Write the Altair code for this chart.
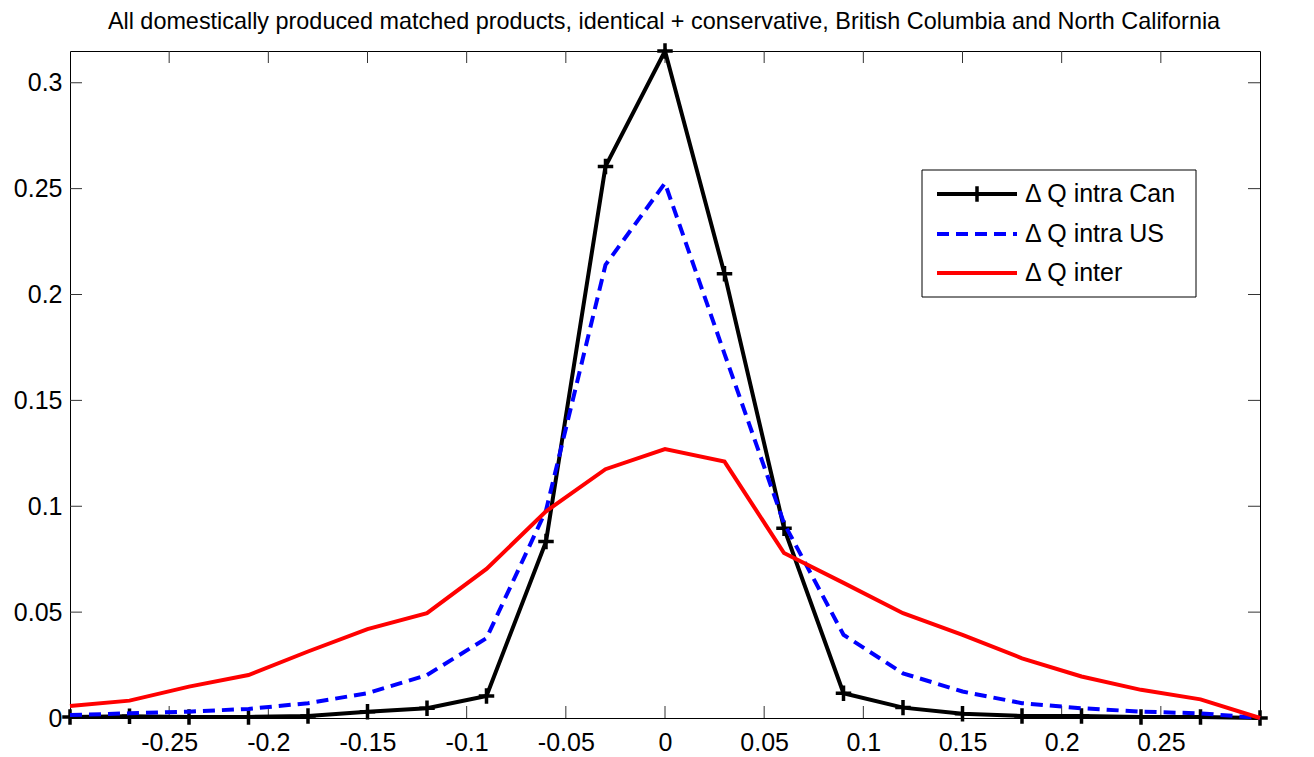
import altair as alt
import pandas as pd

# ---- data ----
x_vals = [-0.30, -0.27, -0.24, -0.21, -0.18, -0.15, -0.12, -0.09, -0.06, -0.03,
          0.00, 0.03, 0.06, 0.09, 0.12, 0.15, 0.18, 0.21, 0.24, 0.27, 0.30]
intra_can = [0.0005, 0.0008, 0.0005, 0.0005, 0.001, 0.003, 0.0046, 0.0104, 0.0833, 0.2605,
             0.315, 0.2098, 0.0896, 0.0117, 0.0049, 0.002, 0.001, 0.001, 0.0005, 0.0005, 0.0]
intra_us = [0.0014, 0.0022, 0.003, 0.0043, 0.007, 0.0117, 0.0203, 0.0377, 0.098, 0.214,
            0.2526, 0.172, 0.092, 0.0393, 0.0211, 0.0125, 0.007, 0.0046, 0.003, 0.0022, 0.0]
inter = [0.0057, 0.0082, 0.0148, 0.0203, 0.0314, 0.042, 0.0495, 0.0704, 0.0976, 0.1175,
         0.127, 0.1211, 0.0779, 0.0638, 0.0495, 0.0393, 0.0282, 0.0196, 0.0133, 0.0088, 0.0]

x_ticks = [-0.25, -0.2, -0.15, -0.1, -0.05, 0, 0.05, 0.1, 0.15, 0.2, 0.25]
y_ticks = [0, 0.05, 0.1, 0.15, 0.2, 0.25, 0.3]
legend_labels = ["\u0394 Q intra Can", "\u0394 Q intra US", "\u0394 Q inter"]
title_text = ("All domestically produced matched products, identical + conservative, "
              "British Columbia and North California")

FONT = "Liberation Sans"
W, H = 1190, 667
LFS = 25  # label font size

xs = alt.Scale(domain=[-0.3, 0.3], nice=False, zero=False)
ys = alt.Scale(domain=[0, 0.315], nice=False, zero=False)

df_can = pd.DataFrame({"x": x_vals, "y": intra_can})
df_us = pd.DataFrame({"x": x_vals, "y": intra_us})
df_int = pd.DataFrame({"x": x_vals, "y": inter})
df_xt = pd.DataFrame({"x": x_ticks})
df_yt = pd.DataFrame({"y": y_ticks})
one = pd.DataFrame({"a": [0]})

X = alt.X("x:Q", scale=xs, axis=alt.Axis(values=x_ticks, labelExpr="toString(datum.value)",
                                            title=None, labelPadding=12))
Y = alt.Y("y:Q", scale=ys, axis=alt.Axis(values=y_ticks, labelExpr="toString(datum.value)",
                                            title=None, labelPadding=8))

# inward ticks on all four sides
tk = 12
xt_bottom = alt.Chart(df_xt).mark_rule(color="#333", strokeWidth=1).encode(
    x=alt.X("x:Q", scale=xs), y=alt.value(H), y2=alt.value(H - tk))
xt_top = alt.Chart(df_xt).mark_rule(color="#333", strokeWidth=1).encode(
    x=alt.X("x:Q", scale=xs), y=alt.value(0), y2=alt.value(tk))
yt_left = alt.Chart(df_yt).mark_rule(color="#333", strokeWidth=1).encode(
    y=alt.Y("y:Q", scale=ys), x=alt.value(0), x2=alt.value(tk))
yt_right = alt.Chart(df_yt).mark_rule(color="#333", strokeWidth=1).encode(
    y=alt.Y("y:Q", scale=ys), x=alt.value(W), x2=alt.value(W - tk))

plus = "M-1,0L1,0M0,-1L0,1"

line_can = alt.Chart(df_can).mark_line(color="black", strokeWidth=4).encode(x=X, y=Y)
pts_can = alt.Chart(df_can).mark_point(shape=plus, filled=False, color="black",
                                       strokeWidth=3.5, size=240, opacity=1).encode(
    x=alt.X("x:Q", scale=xs), y=alt.Y("y:Q", scale=ys))
line_us = alt.Chart(df_us).mark_line(color="#0000ff", strokeWidth=4, strokeDash=[12, 7]).encode(
    x=alt.X("x:Q", scale=xs), y=alt.Y("y:Q", scale=ys))
line_int = alt.Chart(df_int).mark_line(color="#ff0000", strokeWidth=4).encode(
    x=alt.X("x:Q", scale=xs), y=alt.Y("y:Q", scale=ys))

# legend box
lx0, lx1, ly0, ly1 = 852, 1126, 119, 246
rows = [143, 183, 222]
sx0, sx1, tx = 867, 947, 955
leg_box = alt.Chart(one).mark_rect(fill="white", stroke="black", strokeWidth=1).encode(
    x=alt.value(lx0), x2=alt.value(lx1), y=alt.value(ly0), y2=alt.value(ly1))
leg = [leg_box]
leg.append(alt.Chart(one).mark_rule(color="black", strokeWidth=4).encode(
    x=alt.value(sx0), x2=alt.value(sx1), y=alt.value(rows[0])))
leg.append(alt.Chart(one).mark_point(shape=plus, filled=False, color="black",
                                     strokeWidth=3.5, size=240, opacity=1).encode(
    x=alt.value((sx0 + sx1) / 2), y=alt.value(rows[0])))
leg.append(alt.Chart(one).mark_rule(color="#0000ff", strokeWidth=4, strokeDash=[12, 7]).encode(
    x=alt.value(sx0), x2=alt.value(sx1), y=alt.value(rows[1])))
leg.append(alt.Chart(one).mark_rule(color="#ff0000", strokeWidth=4).encode(
    x=alt.value(sx0), x2=alt.value(sx1), y=alt.value(rows[2])))
for r, lab in zip(rows, legend_labels):
    leg.append(alt.Chart(one).mark_text(text=lab, align="left", baseline="middle",
                                        font=FONT, fontSize=LFS, color="black").encode(
        x=alt.value(tx), y=alt.value(r)))

# chart title drawn as text above the plot area
title_mark = alt.Chart(one).mark_text(text=title_text, align="center", baseline="alphabetic",
                                      font=FONT, fontSize=23.4, color="black").encode(
    x=alt.value(594), y=alt.value(-21.6))

chart = alt.layer(
    xt_bottom, xt_top, yt_left, yt_right,
    line_can, pts_can, line_us, line_int,
    *leg, title_mark
).properties(
    width=W, height=H,
    autosize=alt.AutoSizeParams(type="none"),
    padding={"left": 62, "top": 43, "right": 40, "bottom": 38},
).configure_view(
    stroke="black", strokeWidth=1
).configure_axis(
    domain=False, ticks=False, grid=False,
    labelFont=FONT, labelFontSize=LFS, labelColor="black",
)

chart.save("out.html", embed_options={"renderer": "svg", "actions": False})
